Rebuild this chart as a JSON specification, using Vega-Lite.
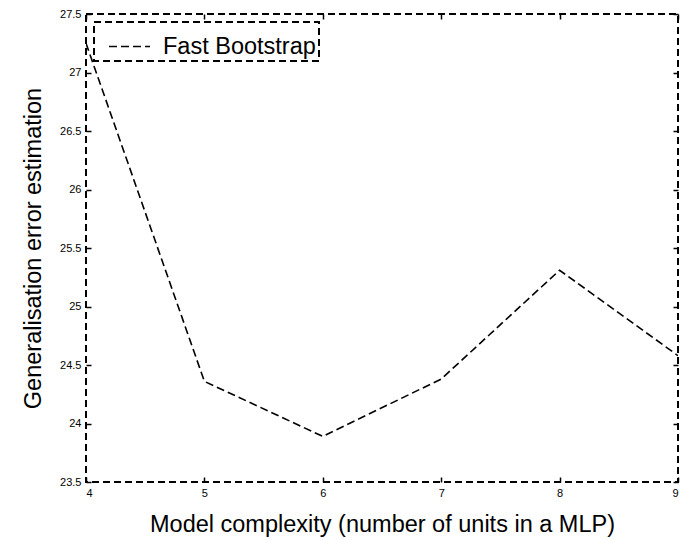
{
  "$schema": "https://vega.github.io/schema/vega-lite/v6.json",
  "width": 592,
  "height": 468,
  "padding": {"left": 86, "top": 14, "right": 11, "bottom": 58},
  "autosize": {"type": "none"},
  "background": "white",
  "config": {
    "view": {"stroke": "black", "strokeWidth": 2, "strokeDash": [7, 4]},
    "font": "Liberation Sans",
    "axis": {
      "domain": false,
      "grid": false,
      "labelFont": "Liberation Sans",
      "labelFontSize": 11,
      "labelColor": "black",
      "titleFont": "Liberation Sans",
      "titleFontSize": 23.5,
      "titleFontWeight": "normal",
      "titleColor": "black"
    }
  },
  "data": {
    "values": [
      {"units": 4, "error": 27.25, "series": "Fast Bootstrap"},
      {"units": 5, "error": 24.36, "series": "Fast Bootstrap"},
      {"units": 6, "error": 23.89, "series": "Fast Bootstrap"},
      {"units": 7, "error": 24.38, "series": "Fast Bootstrap"},
      {"units": 8, "error": 25.31, "series": "Fast Bootstrap"},
      {"units": 9, "error": 24.58, "series": "Fast Bootstrap"}
    ]
  },
  "layer": [
    {
      "mark": {"type": "line", "strokeWidth": 1.6, "strokeDash": [8, 4], "clip": true},
      "encoding": {
        "x": {
          "field": "units", "type": "quantitative",
          "scale": {"domain": [4, 9], "nice": false, "zero": false},
          "axis": {"orient": "bottom", "values": [4, 5, 6, 7, 8, 9], "ticks": true, "tickColor": "black", "tickSize": -5, "tickWidth": 1.5, "labelPadding": 10, "title": "Model complexity (number of units in a MLP)", "titlePadding": 14}
        },
        "y": {
          "field": "error", "type": "quantitative",
          "scale": {"domain": [23.5, 27.5], "nice": false, "zero": false},
          "axis": {"orient": "left", "format": "~g", "values": [23.5, 24, 24.5, 25, 25.5, 26, 26.5, 27, 27.5], "ticks": true, "tickColor": "black", "tickSize": -5, "tickWidth": 1.5, "labelPadding": 10, "title": "Generalisation error estimation", "titlePadding": 14}
        },
        "color": {
          "field": "series", "type": "nominal",
          "scale": {"range": ["black"]},
          "legend": {
            "title": null,
            "orient": "none",
            "legendX": 8,
            "legendY": 8,
            "symbolType": "stroke",
            "symbolSize": 1681,
            "symbolStrokeWidth": 1.6,
            "symbolDash": [8, 4],
            "symbolOffset": 11,
            "labelFontSize": 23.5,
            "labelFont": "Liberation Sans",
            "labelColor": "black",
            "labelOffset": 12,
            "padding": 3,
            "strokeColor": "black",
            "fillColor": "white",
            "encode": {"legend": {"update": {"strokeDash": {"value": [7, 4]}, "strokeWidth": {"value": 2}}}}
          }
        }
      }
    },
    {
      "mark": {"type": "line", "opacity": 0},
      "encoding": {
        "x": {"field": "units", "type": "quantitative", "axis": {"orient": "top", "values": [4, 5, 6, 7, 8, 9], "ticks": true, "tickColor": "black", "tickSize": -5, "tickWidth": 1.5, "labels": false, "title": null}},
        "y": {"field": "error", "type": "quantitative", "axis": {"orient": "right", "values": [23.5, 24, 24.5, 25, 25.5, 26, 26.5, 27, 27.5], "ticks": true, "tickColor": "black", "tickSize": -5, "tickWidth": 1.5, "labels": false, "title": null}}
      }
    }
  ],
  "resolve": {"axis": {"x": "independent", "y": "independent"}}
}
